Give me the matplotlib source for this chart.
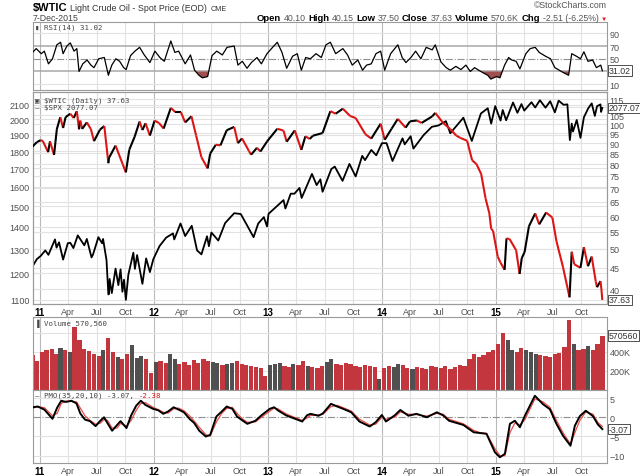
import matplotlib
matplotlib.use("Agg")
import matplotlib.pyplot as plt
from matplotlib.collections import LineCollection
from matplotlib.ticker import NullLocator
import matplotlib.dates as mdates
import numpy as np
import pandas as pd

# ---- S&P 500 close (left scale) ----
spx_dates = ["2010-12-08", "2010-12-22", "2011-01-03", "2011-01-18", "2011-01-28", "2011-02-18", "2011-02-23",
             "2011-03-03", "2011-03-16", "2011-03-31", "2011-04-08", "2011-04-18", "2011-05-02", "2011-05-23",
             "2011-05-31", "2011-06-15", "2011-06-20", "2011-07-07", "2011-07-19", "2011-07-22", "2011-08-02",
             "2011-08-08", "2011-08-10", "2011-08-12", "2011-08-19", "2011-08-31", "2011-09-09", "2011-09-16",
             "2011-09-22", "2011-09-27", "2011-10-03", "2011-10-11", "2011-10-27", "2011-11-01", "2011-11-08",
             "2011-11-25", "2011-12-07", "2011-12-19", "2011-12-30", "2012-01-19", "2012-02-09", "2012-03-02",
             "2012-03-06", "2012-03-26", "2012-04-10", "2012-05-01", "2012-05-18", "2012-06-01", "2012-06-19",
             "2012-06-25", "2012-07-03", "2012-07-25", "2012-08-16", "2012-09-14", "2012-10-05", "2012-10-23",
             "2012-11-15", "2012-11-30", "2012-12-18", "2012-12-28", "2013-01-02", "2013-02-19", "2013-02-25",
             "2013-03-14", "2013-03-26", "2013-04-11", "2013-04-18", "2013-05-21", "2013-06-05", "2013-06-17",
             "2013-06-24", "2013-07-22", "2013-08-02", "2013-08-27", "2013-09-18", "2013-10-08", "2013-10-29",
             "2013-11-07", "2013-11-27", "2013-12-13", "2013-12-31", "2014-01-15", "2014-02-03", "2014-03-07",
             "2014-03-14", "2014-04-02", "2014-04-11", "2014-05-13", "2014-06-09", "2014-06-30", "2014-07-24",
             "2014-08-07", "2014-09-18", "2014-10-15", "2014-11-13", "2014-12-05", "2014-12-16", "2014-12-29",
             "2015-01-15", "2015-01-22", "2015-02-02", "2015-02-24", "2015-03-10", "2015-03-23", "2015-04-01",
             "2015-04-24", "2015-05-06", "2015-05-21", "2015-06-08", "2015-06-23", "2015-07-08", "2015-07-20",
             "2015-08-05", "2015-08-17", "2015-08-25", "2015-08-31", "2015-09-04", "2015-09-16", "2015-09-28",
             "2015-10-09", "2015-10-23", "2015-11-03", "2015-11-13", "2015-11-20", "2015-12-01", "2015-12-03",
             "2015-12-07"]
spx_close = [1228, 1258, 1271, 1295, 1276, 1343, 1307,
             1330, 1256, 1326, 1328, 1305, 1361, 1317,
             1345, 1265, 1278, 1353, 1326, 1345, 1254,
             1119, 1121, 1178, 1124, 1219, 1154, 1216,
             1129, 1175, 1099, 1195, 1285, 1218, 1275,
             1159, 1261, 1205, 1258, 1314, 1351, 1370,
             1343, 1416, 1358, 1405, 1295, 1278, 1357,
             1313, 1374, 1338, 1418, 1465, 1461, 1413,
             1353, 1416, 1446, 1402, 1462, 1530, 1488,
             1563, 1563, 1593, 1541, 1669, 1608, 1639,
             1573, 1696, 1710, 1631, 1725, 1655, 1772,
             1747, 1807, 1775, 1848, 1848, 1742, 1878,
             1841, 1891, 1815, 1897, 1951, 1960, 1988,
             1910, 2011, 1862, 2039, 2075, 1972, 2090,
             1992, 2063, 1994, 2115, 2044, 2104, 2059,
             2117, 2080, 2131, 2079, 2124, 2047, 2128,
             2099, 2102, 1867, 1972, 1921, 1996, 1881,
             2014, 2075, 2109, 2023, 2089, 2102, 2050,
             2077.07]

# ---- WTIC crude oil (right scale) ----
wti_dates = ["2010-12-08", "2010-12-22", "2011-01-03", "2011-01-10", "2011-01-27", "2011-02-02", "2011-02-15",
             "2011-02-24", "2011-03-07", "2011-03-16", "2011-03-24", "2011-04-08", "2011-04-19", "2011-04-29",
             "2011-05-06", "2011-05-10", "2011-05-16", "2011-05-31", "2011-06-13", "2011-06-23", "2011-07-12",
             "2011-07-26", "2011-08-08", "2011-08-10", "2011-08-31", "2011-09-23", "2011-10-03", "2011-10-14",
             "2011-10-31", "2011-11-16", "2011-11-25", "2011-12-05", "2011-12-19", "2012-01-03", "2012-01-17",
             "2012-02-01", "2012-02-24", "2012-03-09", "2012-03-27", "2012-04-10", "2012-04-30", "2012-05-15",
             "2012-06-01", "2012-06-21", "2012-06-29", "2012-07-17", "2012-08-01", "2012-08-21", "2012-09-14",
             "2012-09-26", "2012-10-09", "2012-10-31", "2012-11-07", "2012-11-26", "2012-12-07", "2012-12-28",
             "2013-01-30", "2013-02-19", "2013-03-01", "2013-03-27", "2013-04-17", "2013-04-30", "2013-05-14",
             "2013-05-24", "2013-06-24", "2013-07-19", "2013-08-05", "2013-08-28", "2013-09-20", "2013-10-08",
             "2013-11-08", "2013-11-27", "2013-12-27", "2014-01-09", "2014-01-31", "2014-02-20", "2014-03-17",
             "2014-03-31", "2014-04-22", "2014-05-07", "2014-06-10", "2014-06-20", "2014-07-14", "2014-08-07",
             "2014-08-26", "2014-09-08", "2014-09-30", "2014-10-16", "2014-10-30", "2014-11-14", "2014-11-28",
             "2014-12-10", "2014-12-16", "2014-12-22", "2015-01-06", "2015-01-15", "2015-01-28", "2015-02-03",
             "2015-02-13", "2015-03-06", "2015-03-17", "2015-03-24", "2015-04-02", "2015-04-16", "2015-05-06",
             "2015-05-19", "2015-06-10", "2015-06-30", "2015-07-13", "2015-08-03", "2015-08-24", "2015-08-31",
             "2015-09-08", "2015-09-28", "2015-10-09", "2015-10-22", "2015-11-03", "2015-11-16", "2015-11-20",
             "2015-12-01", "2015-12-04", "2015-12-07"]
wti_close = [88.3, 90.5, 91.5, 91.1, 85.6, 90.9, 84.3,
             97.3, 104.0, 97.9, 104.0, 106.0, 103.5, 107.5,
             97.2, 102.0, 97.4, 101.0, 97.3, 91.0, 97.0,
             99.0, 80.5, 82.9, 88.8, 80.0, 76.5, 86.8,
             93.2, 101.5, 96.8, 100.5, 93.9, 102.0, 100.7,
             97.6, 109.5, 107.0, 107.0, 101.0, 104.5, 93.9,
             83.2, 78.2, 84.9, 89.2, 88.9, 96.7, 98.5,
             90.0, 92.4, 86.2, 84.4, 87.7, 85.9, 90.8,
             97.5, 96.5, 90.7, 96.6, 86.7, 93.5, 92.1,
             93.8, 95.2, 107.5, 106.0, 109.0, 104.7, 103.5,
             94.6, 92.3, 100.3, 91.7, 97.5, 103.0, 98.1,
             101.6, 102.1, 100.7, 104.4, 106.5, 100.9, 97.3,
             93.9, 92.7, 91.2, 81.8, 80.1, 75.8, 66.2,
             61.0, 55.9, 55.3, 47.9, 46.3, 44.5, 53.0,
             52.8, 49.6, 43.5, 47.5, 49.1, 56.7, 60.9,
             57.3, 61.2, 59.5, 52.2, 45.2, 38.2, 49.2,
             45.9, 45.0, 50.5, 45.4, 47.9, 41.7, 40.4,
             41.8, 40.0, 37.63]

# ---- RSI(14) ----
rsi_dates = ["2010-12-08", "2010-12-20", "2011-01-05", "2011-01-15", "2011-01-28", "2011-02-10", "2011-02-24",
             "2011-03-08", "2011-03-16", "2011-03-28", "2011-04-08", "2011-04-20", "2011-04-29", "2011-05-06",
             "2011-05-18", "2011-06-01", "2011-06-13", "2011-06-23", "2011-07-08", "2011-07-26", "2011-08-08",
             "2011-08-19", "2011-09-01", "2011-09-13", "2011-09-26", "2011-10-04", "2011-10-18", "2011-11-01",
             "2011-11-16", "2011-12-01", "2011-12-19", "2012-01-04", "2012-01-20", "2012-02-03", "2012-02-24",
             "2012-03-08", "2012-03-20", "2012-04-10", "2012-04-27", "2012-05-10", "2012-05-24", "2012-06-04",
             "2012-06-21", "2012-07-05", "2012-07-20", "2012-08-07", "2012-08-22", "2012-09-14", "2012-09-26",
             "2012-10-10", "2012-10-25", "2012-11-08", "2012-11-26", "2012-12-10", "2012-12-28", "2013-01-15",
             "2013-01-30", "2013-02-14", "2013-03-01", "2013-03-20", "2013-04-04", "2013-04-17", "2013-05-01",
             "2013-05-16", "2013-06-03", "2013-06-20", "2013-07-05", "2013-07-19", "2013-08-05", "2013-08-28",
             "2013-09-12", "2013-09-27", "2013-10-15", "2013-10-30", "2013-11-12", "2013-11-27", "2013-12-12",
             "2013-12-27", "2014-01-09", "2014-01-28", "2014-02-20", "2014-03-06", "2014-03-18", "2014-04-03",
             "2014-04-18", "2014-05-05", "2014-05-22", "2014-06-10", "2014-06-20", "2014-07-08", "2014-07-25",
             "2014-08-07", "2014-08-25", "2014-09-10", "2014-09-26", "2014-10-10", "2014-10-24", "2014-11-06",
             "2014-11-20", "2014-12-05", "2014-12-15", "2015-01-02", "2015-01-13", "2015-01-28", "2015-02-10",
             "2015-02-20", "2015-03-06", "2015-03-18", "2015-04-06", "2015-04-20", "2015-05-06", "2015-05-19",
             "2015-06-08", "2015-06-24", "2015-07-08", "2015-07-22", "2015-08-05", "2015-08-21", "2015-08-31",
             "2015-09-15", "2015-09-28", "2015-10-09", "2015-10-22", "2015-11-06", "2015-11-18", "2015-12-02",
             "2015-12-07"]
rsi_vals = [60, 66, 58, 62, 42, 50, 72,
            76, 58, 70, 75, 62, 66, 30,
            42, 48, 40, 36, 50, 52, 24,
            40, 50, 46, 36, 33, 55, 62,
            68, 56, 44, 62, 52, 46, 78,
            60, 62, 42, 56, 32, 24, 20,
            22, 55, 62, 56, 68, 70, 40,
            46, 35, 44, 52, 42, 58, 68,
            76, 60, 35, 54, 58, 32, 52,
            50, 58, 52, 72, 76, 58, 66,
            56, 40, 48, 32, 40, 42, 58,
            62, 32, 58, 72, 52, 44, 52,
            62, 50, 68, 64, 72, 45, 36,
            32, 38, 33, 40, 30, 36, 32,
            28, 24, 18, 22, 20, 40, 52,
            48, 46, 34, 58, 66, 68, 60,
            54, 50, 36, 32, 28, 24, 58,
            54, 50, 61, 46, 48, 36, 40,
            31.02]

# ---- Volume, semi-monthly (thousands) ----
vol_dates = pd.date_range("2010-12-01", "2015-12-01", freq="SMS")
vol_k = [370, 300,
         400, 420, 430, 380, 440, 420, 400, 660, 520, 430, 410, 380,
         360, 420, 550, 400, 350, 330, 380, 470, 340, 360, 320, 180,
         290, 300, 280, 380, 320, 270, 290, 260, 310, 280, 330, 300,
         290, 280, 260, 270, 280, 300, 270, 260, 250, 240, 230, 150,
         260, 270, 280, 250, 240, 270, 260, 300, 250, 240, 230, 250,
         290, 320, 270, 260, 280, 270, 250, 240, 260, 250, 240, 120,
         230, 250, 240, 270, 260, 230, 220, 240, 230, 220, 250, 240,
         230, 250, 220, 240, 260, 250, 330, 380, 350, 370, 400, 420,
         480, 600, 520, 420, 400, 440, 420, 400, 380, 370, 360, 350,
         380, 390, 450, 730, 480, 420, 430, 460, 420, 480, 570]

# ---- PMO(35,20,10) and its signal ----
pmo_dates = ["2010-12-08", "2010-12-25", "2011-01-15", "2011-02-10", "2011-02-25", "2011-03-10", "2011-03-25",
             "2011-04-12", "2011-04-28", "2011-05-10", "2011-05-25", "2011-06-10", "2011-06-28", "2011-07-12",
             "2011-07-25", "2011-08-05", "2011-08-20", "2011-09-05", "2011-09-16", "2011-10-05", "2011-10-20",
             "2011-11-05", "2011-11-20", "2011-12-05", "2011-12-29", "2012-01-15", "2012-01-31", "2012-02-15",
             "2012-03-04", "2012-03-20", "2012-04-06", "2012-04-25", "2012-05-09", "2012-05-25", "2012-06-15",
             "2012-06-29", "2012-07-19", "2012-08-05", "2012-08-21", "2012-09-08", "2012-09-23", "2012-10-10",
             "2012-10-26", "2012-11-21", "2012-12-10", "2013-01-06", "2013-01-20", "2013-02-01", "2013-02-27",
             "2013-03-25", "2013-04-20", "2013-05-05", "2013-05-16", "2013-06-11", "2013-06-25", "2013-07-21",
             "2013-08-10", "2013-08-29", "2013-09-24", "2013-10-20", "2013-11-22", "2013-12-11", "2013-12-31",
             "2014-01-13", "2014-02-10", "2014-02-28", "2014-03-26", "2014-04-21", "2014-05-24", "2014-06-25",
             "2014-07-15", "2014-08-03", "2014-09-18", "2014-10-21", "2014-11-10", "2014-12-01", "2014-12-28",
             "2015-01-13", "2015-01-29", "2015-02-14", "2015-03-02", "2015-03-18", "2015-04-03", "2015-05-05",
             "2015-05-31", "2015-06-22", "2015-07-13", "2015-08-03", "2015-08-27", "2015-09-10", "2015-09-26",
             "2015-10-15", "2015-11-07", "2015-11-23", "2015-12-07"]
pmo_vals = [2.6, 2.8, 2.0, -0.4, 2.5, 4.3, 4.0,
            4.3, 3.6, 1.0, -0.6, -1.0, -2.3, -1.0,
            0.0, -1.5, -3.5, -2.0, -1.0, -2.8, 0.5,
            3.0, 4.3, 3.2, 2.2, 1.8, 0.9, 1.5,
            2.6, 2.0, 1.3, -0.5, -1.5, -3.5, -5.0,
            -4.6, 0.2, 1.5, 2.8, 2.2, 0.2, -0.8,
            -1.7, -0.9, 0.5, 2.2, 2.6, 1.8, 0.5,
            -0.3, -1.1, 0.5, 0.9, 0.4, 1.0, 3.5,
            2.8, 2.2, 1.3, -1.1, -2.4, -1.3, 0.6,
            -1.1, 0.5, 1.9, 0.4, 0.9, 0.0, 1.3,
            0.5, -0.9, -2.0, -3.9, -4.1, -4.3, -9.1,
            -10.4, -9.5, -1.7, -0.9, -2.6, 0.4, 5.6,
            3.4, 2.1, -1.7, -4.8, -7.4, -2.2, 0.3,
            1.7, 0.3, -1.9, -3.07]
pmo_signal = [2.4, 2.7, 2.5, 0.4, 1.0, 3.6, 4.2,
              4.1, 4.0, 2.4, 0.4, -0.8, -1.8, -1.6,
              -0.6, -0.8, -2.8, -2.8, -1.6, -2.3, -0.8,
              1.8, 3.6, 3.8, 2.6, 2.0, 1.3, 1.1,
              2.2, 2.4, 1.7, 0.3, -1.0, -2.6, -4.5,
              -4.9, -1.2, 1.0, 2.3, 2.6, 1.0, -0.4,
              -1.3, -1.2, 0.0, 1.6, 2.4, 2.2, 0.9,
              0.0, -0.8, -0.2, 0.5, 0.6, 0.8, 2.8,
              3.1, 2.5, 1.6, -0.5, -2.0, -1.8, 0.0,
              -0.5, 0.0, 1.4, 0.8, 0.7, 0.3, 1.0,
              0.8, -0.5, -1.7, -3.4, -4.0, -4.2, -8.2,
              -10.0, -10.0, -4.0, -1.5, -2.0, -0.6, 4.8,
              4.0, 2.6, -0.8, -4.0, -7.0, -4.0, -0.8,
              1.4, 0.8, -1.4, -2.38]

spx_ticks = [1100, 1200, 1300, 1400, 1500, 1600, 1700, 1800, 1900, 2000, 2100]
wti_ticks = [40, 45, 50, 55, 60, 65, 70, 75, 80, 85, 90, 95, 100, 105, 110, 115]

plt.rcParams["font.family"] = ["Liberation Sans", "DejaVu Sans"]

W, H = 640, 477
GRID = "#e2e2e2"
YEARGRID = "#b9b9b9"
TXT = "#505050"
RED = "#dd1515"
mono = "DejaVu Sans Mono"

fig = plt.figure(figsize=(6.4, 4.77), dpi=100)


def panel(y0, y1):
    return [32.5 / W, 1 - y1 / H, (606.7 - 32.5) / W, (y1 - y0) / H]


ax_rsi = fig.add_axes(panel(23, 91))
ax_main = fig.add_axes(panel(93, 305))
ax_vol = fig.add_axes(panel(318, 391))
ax_pmo = fig.add_axes(panel(391, 464))
ax_wti = ax_main.twinx()

qticks = pd.date_range("2011-01-01", "2015-10-01", freq="QS")
qlabels = ["%02d" % (d.year % 100) if d.month == 1 else d.strftime("%b") for d in qticks]
x0, x1 = pd.Timestamp("2010-12-08"), pd.Timestamp("2015-12-21")

for ax in (ax_rsi, ax_main, ax_vol, ax_pmo, ax_wti):
    ax.set_xlim(x0, x1)
    for s in ax.spines.values():
        s.set_color("#9a9a9a")
        s.set_linewidth(0.8)
    ax.tick_params(length=0, labelsize=6.5, labelcolor=TXT, pad=2)

for ax in (ax_rsi, ax_main, ax_vol, ax_pmo):
    for d in qticks:
        ax.axvline(d, color=YEARGRID if d.month == 1 else GRID, lw=0.8, zorder=0)
    ax.yaxis.tick_right()
    ax.set_xticks(qticks)
    ax.set_xticklabels([])

for ax in (ax_main, ax_pmo):
    ax.set_xticklabels(qlabels)
    for t, d in zip(ax.get_xticklabels(), qticks):
        if d.month == 1:
            t.set_fontweight("bold")
            t.set_color("black")
            t.set_fontsize(7)

tag = dict(boxstyle="square,pad=0.1", fc="white", ec="#333", lw=0.6)


def value_tag(ax, y, s, trans=None):
    ax.text(1.004, y, s, transform=trans or ax.get_yaxis_transform(), va="center", ha="left",
            fontsize=6.3, color="#333", bbox=tag, zorder=10, clip_on=False)


def panel_label(ax, top_px, s, **kw):
    # label placed a fixed number of pixels below the panel's top edge
    h = ax.get_position().height * H
    return ax.text(0.004, 1 - top_px / h, s, transform=ax.transAxes, va="top",
                   fontsize=5.3, family=mono, color="#444", **kw)


# ---- RSI panel ----
rd = pd.to_datetime(rsi_dates)
rv = np.array(rsi_vals)
ax_rsi.set_ylim(0.8, 107.9)
ax_rsi.set_yticks([10, 50, 70, 90])
for lvl in (10, 90):
    ax_rsi.axhline(lvl, color=GRID, lw=0.8, zorder=0)
ax_rsi.axhline(70, color="#a8a8a8", lw=1.1, zorder=1)
ax_rsi.axhline(30, color="#a8a8a8", lw=1.1, zorder=1)
ax_rsi.axhline(50, color="#909090", lw=0.8, ls="-.", zorder=1)
ax_rsi.fill_between(rd, rv, 30, where=rv < 30, interpolate=True, color="#a0504f", lw=0, zorder=2)
ax_rsi.plot(rd, rv, color="black", lw=0.9, zorder=3)
panel_label(ax_rsi, 1.5, "\u25ae RSI(14) 31.02")
value_tag(ax_rsi, rsi_vals[-1], "31.02")

# ---- price panel ----
sd = pd.to_datetime(spx_dates)
wd = pd.to_datetime(wti_dates)
spx_lo, spx_hi = 1084, 2190
wti_lo, wti_hi = 36.8, 119.6
ax_main.set_yscale("log")
ax_main.set_ylim(spx_lo, spx_hi)
ax_main.yaxis.tick_left()
ax_main.set_yticks(spx_ticks, [str(v) for v in spx_ticks])
ax_main.yaxis.set_minor_locator(NullLocator())
for v in spx_ticks:
    ax_main.axhline(v, color=GRID, lw=0.8, zorder=0)
for v in wti_ticks:
    f = (np.log(v) - np.log(wti_lo)) / (np.log(wti_hi) - np.log(wti_lo))
    ax_main.plot([0, 1], [f, f], transform=ax_main.transAxes, color=GRID, lw=0.8, zorder=0)
ax_main.plot(sd, spx_close, color="black", lw=1.3, zorder=3)

ax_wti.set_yscale("log")
ax_wti.set_ylim(wti_lo, wti_hi)
ax_wti.set_yticks(wti_ticks, ["" if v == 110 else str(v) for v in wti_ticks])
ax_wti.yaxis.set_minor_locator(NullLocator())
xn = mdates.date2num(wd)
wv = np.array(wti_close)
segs = np.stack([np.column_stack([xn[:-1], wv[:-1]]), np.column_stack([xn[1:], wv[1:]])], axis=1)
seg_col = [RED if b < a else "black" for a, b in zip(wv[:-1], wv[1:])]
ax_wti.add_collection(LineCollection(segs, colors=seg_col, linewidths=1.5, zorder=3))

panel_label(ax_main, 4.5, "\u25a3 $WTIC (Daily) 37.63")
panel_label(ax_main, 12.3, "\u2014 $SPX 2077.07")

f_spx = (np.log(spx_close[-1]) - np.log(spx_lo)) / (np.log(spx_hi) - np.log(spx_lo))
value_tag(ax_wti, f_spx, "2077.07", trans=ax_wti.transAxes)
value_tag(ax_wti, wti_close[-1], "37.63")

# ---- volume panel ----
vc = np.array(vol_k)
wti_at_vol = np.interp(mdates.date2num(vol_dates), xn, wv)
vol_col = ["#505050" if i > 0 and wti_at_vol[i] > wti_at_vol[i - 1] * 1.03 else "#c3363e"
           for i in range(len(vc))]
ax_vol.bar(vol_dates, vc, width=13.5, align="edge", color=vol_col, lw=0, zorder=2)
ax_vol.set_ylim(0, 765)
ax_vol.set_yticks([200, 400], ["200K", "400K"])
for lvl in (200, 400, 600):
    ax_vol.axhline(lvl, color=GRID, lw=0.8, zorder=0)
value_tag(ax_vol, 570.56, "570560")
panel_label(ax_vol, 1.5, "\u2590 Volume 570,560")

# ---- PMO panel ----
pd_ = pd.to_datetime(pmo_dates)
ax_pmo.set_ylim(-11.9, 7.1)
ax_pmo.set_yticks([-10, -5, 0, 5])
for lvl in (-10, -5, 5):
    ax_pmo.axhline(lvl, color=GRID, lw=0.8, zorder=0)
ax_pmo.axhline(0, color="#909090", lw=0.8, ls="-.", zorder=1)
ax_pmo.plot(pd_, pmo_signal, color="#ee4b45", lw=0.9, zorder=3)
ax_pmo.plot(pd_, pmo_vals, color="black", lw=1.4, zorder=4)
value_tag(ax_pmo, pmo_vals[-1], "-3.07")
t1 = panel_label(ax_pmo, 2, "\u2014 PMO(35,20,10) -3.07, ")
ax_pmo.annotate("-2.38", xycoords=t1, xy=(1, 0), va="bottom", fontsize=5.3, family=mono, color=RED)

# ---- header ----
renderer = fig.canvas.get_renderer()


def text_row(x, y, parts, gap=3):
    out = []
    for s, kw in parts:
        t = fig.text(x, y, s, **kw)
        x += (t.get_window_extent(renderer).width + gap) / W
        out.append(t)
    return x, out


text_row(33 / W, 1 - 11 / H, [("$WTIC", dict(fontsize=8, fontweight="bold", color="black")),
                              ("Light Crude Oil - Spot Price (EOD)", dict(fontsize=6.4, color="#333")),
                              ("CME", dict(fontsize=5.2, color="#333"))])
fig.text(33 / W, 1 - 21 / H, "7-Dec-2015", fontsize=6.3, color="#444")
fig.text(607 / W, 1 - 7.5 / H, "\u00a9StockCharts.com", fontsize=6.3, color="#555", ha="right")

lab = dict(fontsize=6.8, fontweight="bold", color="black")
val = dict(fontsize=6.3, color="#555")
parts = [("Open", lab), ("40.10", val), ("High", lab), ("40.15", val), ("Low", lab),
         ("37.50", val), ("Close", lab), ("37.63", val), ("Volume", lab), ("570.6K", val),
         ("Chg", lab), ("-2.51 (-6.25%)", val), ("\u25bc", dict(fontsize=4.5, color=RED))]
x_end, texts = text_row(0, 1 - 21 / H, parts, gap=2.5)
shift = 607 / W - x_end + 2.5 / W
for t in texts:
    t.set_x(t.get_position()[0] + shift)

fig.savefig("out.png", dpi=100)
